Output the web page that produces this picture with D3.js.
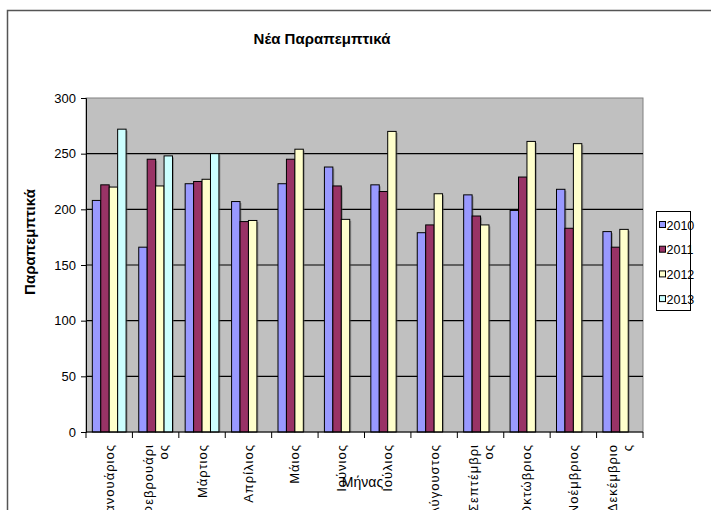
<!DOCTYPE html>
<html>
<head>
<meta charset="utf-8">
<script src="https://cdn.jsdelivr.net/npm/d3@7"></script>
<style>
  body { margin: 0; background: #fff; }
  svg { display: block; }
</style>
</head>
<body>
<div class="chart"></div>
<script>
// data
const months = ['Ιανουάριος', 'Φεβρουάριος', 'Μάρτιος', 'Απρίλιος', 'Μάιος', 'Ιούνιος',
    'Ιούλιος', 'Αύγουστος', 'Σεπτέμβριος', 'Οκτώβριος', 'Νοέμβριος', 'Δεκέμβριος'];
// how Excel wrapped the tick labels
const monthLines = [['Ιανουάριος'], ['Φεβρουάρι', 'ος'], ['Μάρτιος'], ['Απρίλιος'], ['Μάιος'],
    ['Ιούνιος'], ['Ιούλιος'], ['Αύγουστος'], ['Σεπτέμβρι', 'ος'], ['Οκτώβριος'],
    ['Νοέμβριος'], ['Δεκέμβριο', 'ς']];
const years = ['2010', '2011', '2012', '2013'];
const v2010 = [208, 166, 223, 207, 223, 238, 222, 179, 213, 199, 218, 180];
const v2011 = [222, 245, 225, 189, 245, 221, 216, 186, 194, 229, 183, 166];
const v2012 = [220, 221, 227, 190, 254, 191, 270, 214, 186, 261, 259, 182];
const v2013 = [272, 248, 250, null, null, null, null, null, null, null, null, null];
const yTicks = [0, 50, 100, 150, 200, 250, 300];

const series = [v2010, v2011, v2012, v2013];
const colors = ['#9999ff', '#993366', '#ffffcc', '#ccffff'];

const W = 711, H = 510;
const plot = {left: 86, right: 643, top: 98, bottom: 432};

const svg = d3.select('.chart').append('svg')
    .attr('width', W)
    .attr('height', H)
    .style('font-family', '"Liberation Sans", Arial, sans-serif');

// outer chart frame (right/bottom edges fall outside the picture)
svg.append('rect')
    .attr('x', 7.5).attr('y', 10.5)
    .attr('width', 730).attr('height', 530)
    .attr('fill', 'none')
    .attr('stroke', '#555')
    .attr('stroke-width', 1.5);

const xScale = d3.scaleBand()
    .domain(months)
    .range([plot.left, plot.right])
    .paddingInner(0)
    .paddingOuter(0);
const xSub = d3.scaleBand()
    .domain(years)
    .range([0, xScale.bandwidth()])
    .paddingOuter(0.75) // 150% gap width split on both sides
    .paddingInner(0);
const yScale = d3.scaleLinear()
    .domain([0, 300])
    .range([plot.bottom, plot.top]);

// plot area
svg.append('rect')
    .attr('x', plot.left).attr('y', plot.top)
    .attr('width', plot.right - plot.left)
    .attr('height', plot.bottom - plot.top)
    .attr('fill', '#c0c0c0')
    .attr('stroke', '#808080');

// gridlines
svg.append('g')
    .selectAll('line')
    .data(yTicks.filter(d => d > 0 && d < 300))
    .enter()
    .append('line')
    .attr('x1', plot.left).attr('x2', plot.right)
    .attr('y1', d => yScale(d)).attr('y2', d => yScale(d))
    .attr('stroke', '#000')
    .attr('stroke-width', 1.2);

// bars
const rows = [];
months.forEach((m, i) => {
    years.forEach((y, j) => {
        if (series[j][i] != null) rows.push({month: m, year: y, value: series[j][i], k: j});
    });
});

svg.append('g')
    .selectAll('rect')
    .data(rows)
    .enter()
    .append('rect')
    .attr('x', d => xScale(d.month) + xSub(d.year) + 1.5)
    .attr('y', d => yScale(d.value) + 1.5)
    .attr('width', xSub.bandwidth())
    .attr('height', d => yScale(0) - yScale(d.value) - 1.5)
    .attr('fill', '#555')
    .attr('opacity', 0.45);

svg.append('g')
    .selectAll('rect')
    .data(rows)
    .enter()
    .append('rect')
    .attr('x', d => xScale(d.month) + xSub(d.year))
    .attr('y', d => yScale(d.value))
    .attr('width', xSub.bandwidth())
    .attr('height', d => yScale(0) - yScale(d.value))
    .attr('fill', d => colors[d.k])
    .attr('stroke', '#000')
    .attr('stroke-width', 1);

// y axis
const yAxis = d3.axisLeft(yScale)
    .tickValues(yTicks)
    .tickSize(5)
    .tickPadding(5);
const gy = svg.append('g')
    .attr('transform', `translate(${plot.left},0)`)
    .call(yAxis);
gy.select('.domain').attr('stroke', '#000');
gy.selectAll('text').attr('font-size', 13).attr('fill', '#000')
    .attr('font-family', '"Liberation Sans", Arial, sans-serif');

// x axis (ticks at category boundaries)
const gx = svg.append('g')
    .attr('transform', `translate(0,${plot.bottom})`);
gx.append('line')
    .attr('x1', plot.left).attr('x2', plot.right)
    .attr('stroke', '#000');
gx.selectAll('.tick')
    .data(months.map(m => xScale(m)).concat([plot.right]))
    .enter()
    .append('line')
    .attr('x1', d => d).attr('x2', d => d)
    .attr('y1', 0).attr('y2', 6)
    .attr('stroke', '#000');

const labels = gx.selectAll('.lbl')
    .data(months)
    .enter()
    .append('text')
    .attr('class', 'lbl')
    .attr('font-size', 13)
    .attr('letter-spacing', 1)
    .attr('text-anchor', 'end')
    .attr('transform', d => `translate(${xScale(d) + xScale.bandwidth() / 2},12) rotate(-90)`);

labels.each(function(d, i) {
    const lines = monthLines[i];
    const n = lines.length;
    d3.select(this).selectAll('tspan')
        .data(lines)
        .enter()
        .append('tspan')
        .attr('x', 0)
        .attr('y', (l, k) => 4.5 + (k - (n - 1) / 2) * 15)
        .text(l => l);
});

// axis titles
svg.append('text')
    .attr('x', (plot.left + plot.right) / 2 - 2)
    .attr('y', 487)
    .attr('text-anchor', 'middle')
    .attr('font-size', 14)
    .text('Μήνας');

svg.append('text')
    .attr('transform', 'translate(35,242) rotate(-90)')
    .attr('text-anchor', 'middle')
    .attr('font-size', 15)
    .attr('font-weight', 'bold')
    .text('Παραπεμπτικά');

svg.append('text')
    .attr('x', 322)
    .attr('y', 44)
    .attr('text-anchor', 'middle')
    .attr('font-size', 15)
    .attr('font-weight', 'bold')
    .attr('font-family', '"Liberation Sans Narrow", "Liberation Sans", Arial, sans-serif')
    .text('Νέα Παραπεμπτικά');

// legend
const legend = svg.append('g')
    .attr('transform', 'translate(656,211)');
legend.append('rect')
    .attr('x', 0.5).attr('y', 0.5)
    .attr('width', 34).attr('height', 99)
    .attr('fill', '#fff')
    .attr('stroke', '#000');
legend.selectAll('.box')
    .data(years)
    .enter()
    .append('rect')
    .attr('class', 'box')
    .attr('x', 3.5)
    .attr('y', (d, i) => 10.5 + i * 24.7)
    .attr('width', 6).attr('height', 6)
    .attr('fill', (d, i) => colors[i])
    .attr('stroke', '#000');
legend.selectAll('.ltxt')
    .data(years)
    .enter()
    .append('text')
    .attr('class', 'ltxt')
    .attr('x', 10.5)
    .attr('y', (d, i) => 18.5 + i * 24.7)
    .attr('font-size', 12.5)
    .text(d => d);
</script>
</body>
</html>
